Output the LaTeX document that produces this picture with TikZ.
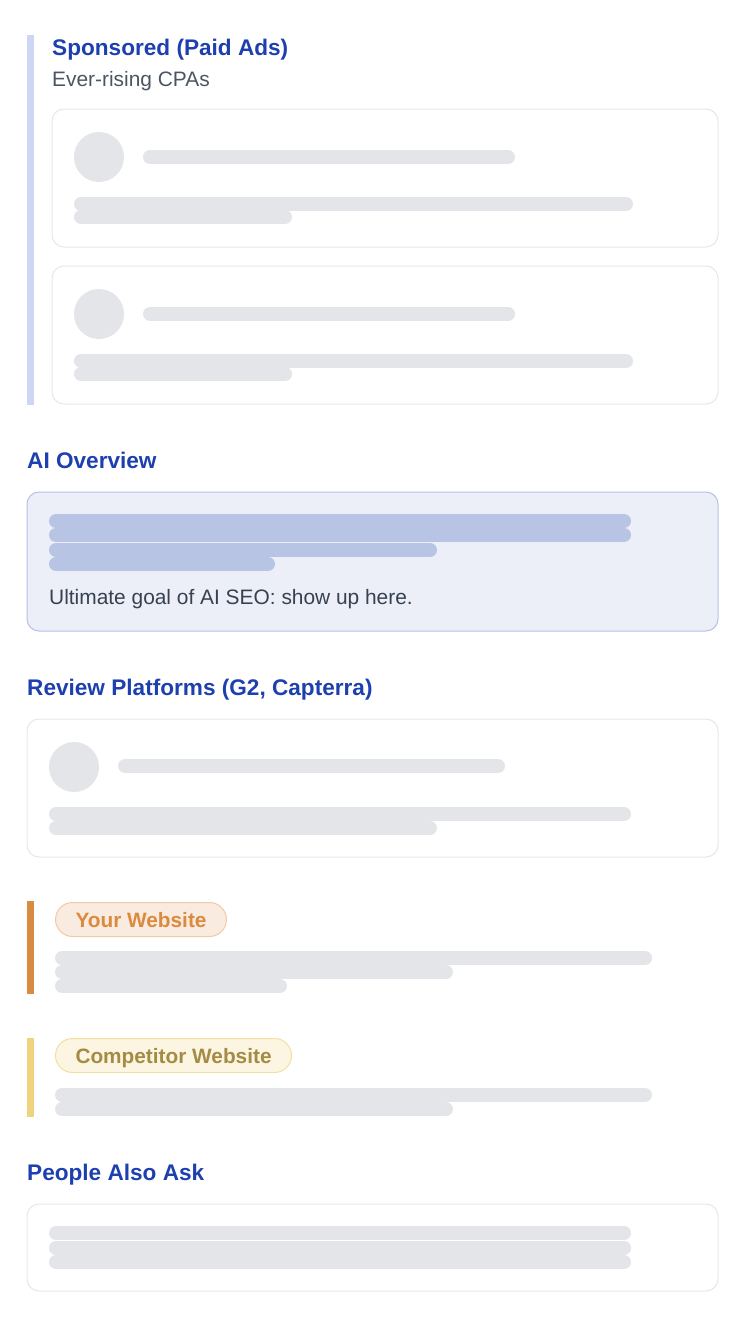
\documentclass[tikz,border=0pt]{standalone}
\usepackage{fontspec}
\setmainfont{Liberation Sans}
\usepackage{tikz}
\usetikzlibrary{positioning}

\definecolor{headblue}{HTML}{1E40AF}
\definecolor{subgray}{HTML}{4B5563}
\definecolor{bodygray}{HTML}{374151}
\definecolor{cardline}{HTML}{E5E7EB}
\definecolor{skel}{HTML}{E4E5E9}
\definecolor{aifill}{HTML}{ECEFF8}
\definecolor{ailine}{HTML}{B5C2E4}
\definecolor{aiskel}{HTML}{B8C4E4}
\definecolor{adbar}{HTML}{CDD6F2}
\definecolor{ownbar}{HTML}{D98B41}
\definecolor{ownfill}{HTML}{F9EBDF}
\definecolor{ownline}{HTML}{F0CBA4}
\definecolor{owntext}{HTML}{DB8A3E}
\definecolor{compbar}{HTML}{EFD37E}
\definecolor{compfill}{HTML}{FCF5E1}
\definecolor{compline}{HTML}{F3DFA0}
\definecolor{comptext}{HTML}{A48C45}

\begin{document}
\begin{tikzpicture}[x=1pt, y=-1pt]
%\draw[very thin, color = gray](0, 0) grid (746, 1338);
\tikzstyle{heading} = [anchor = base west, inner sep = 0pt, text = headblue,
  font = \fontsize{22.6}{26}\selectfont\bfseries];
\tikzstyle{note} = [anchor = base west, inner sep = 0pt,
  font = \fontsize{20.9}{24}\selectfont];
\tikzstyle{card} = [draw = cardline, fill = white, line width = 1pt, rounded corners = 12pt];
\tikzstyle{skelbar} = [draw = skel, line width = 14pt, line cap = round];
\tikzstyle{aibar} = [draw = aiskel, line width = 14pt, line cap = round];
\tikzstyle{avatar} = [fill = skel];
\tikzstyle{pill} = [rounded corners = 17pt, line width = 1pt, minimum height = 34pt,
  text height = 15pt, text depth = 0pt, inner xsep = 20pt, anchor = north west,
  font = \fontsize{20.8}{24}\selectfont\bfseries];
\useasboundingbox (0, 0) rectangle (746, 1338);

% sponsored
\fill [adbar] (27, 35) rectangle (34, 405);
\node [heading] at (52, 56) (sponsored) {Sponsored (Paid Ads)};
\node [note, text = subgray] at (52, 86) (cpas) {Ever-rising CPAs};
\foreach \y in {109, 266} {
  \draw [card] (52, \y) rectangle (718, \y + 138);
  \fill [avatar] (99, \y + 48) circle (25);
  \draw [skelbar] (150, \y + 48) -- (508, \y + 48);
  \draw [skelbar] (81, \y + 95) -- (626, \y + 95);
  \draw [skelbar] (81, \y + 108) -- (285, \y + 108);
}

% ai overview
\node [heading] at (27, 468) (overview) {AI Overview};
\draw [draw = ailine, fill = aifill, line width = 1pt, rounded corners = 12pt]
  (27, 492) rectangle (718, 631);
\draw [aibar] (56, 521) -- (624, 521);
\draw [aibar] (56, 535) -- (624, 535);
\draw [aibar] (56, 550) -- (430, 550);
\draw [aibar] (56, 564) -- (268, 564);
\node [note, text = bodygray] at (49, 604) (goal) {Ultimate goal of AI SEO: show up here.};

% review platforms
\node [heading] at (27, 695) (reviews) {Review Platforms (G2, Capterra)};
\draw [card] (27, 719) rectangle (718, 857);
\fill [avatar] (74, 767) circle (25);
\draw [skelbar] (125, 766) -- (498, 766);
\draw [skelbar] (56, 814) -- (624, 814);
\draw [skelbar] (56, 828) -- (430, 828);

% your website
\fill [ownbar] (27, 901) rectangle (34, 994);
\node [pill, draw = ownline, fill = ownfill, text = owntext] at (55, 902) (own) {Your Website};
\draw [skelbar] (62, 958) -- (645, 958);
\draw [skelbar] (62, 972) -- (446, 972);
\draw [skelbar] (62, 986) -- (280, 986);

% competitor website
\fill [compbar] (27, 1038) rectangle (34, 1117);
\node [pill, draw = compline, fill = compfill, text = comptext] at (55, 1038) (rival) {Competitor Website};
\draw [skelbar] (62, 1095) -- (645, 1095);
\draw [skelbar] (62, 1109) -- (446, 1109);

% people also ask
\node [heading] at (27, 1180) (paa) {People Also Ask};
\draw [card] (27, 1204) rectangle (718, 1291);
\draw [skelbar] (56, 1233) -- (624, 1233);
\draw [skelbar] (56, 1248) -- (624, 1248);
\draw [skelbar] (56, 1262) -- (624, 1262);
\end{tikzpicture}
\end{document}
